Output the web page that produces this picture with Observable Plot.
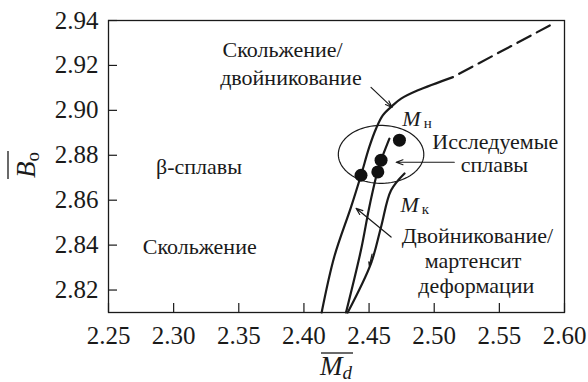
<!DOCTYPE html>
<html>
<head>
<meta charset="utf-8">
<script src="https://cdn.jsdelivr.net/npm/d3@7"></script>
<script src="https://cdn.jsdelivr.net/npm/@observablehq/plot@0.6"></script>
<style>
  body { margin: 0; background: #fff; }
  #chart svg, #chart svg text {
    font-family: "Liberation Serif", LiberationSerif, "Times New Roman", Times, Tinos,
      "DejaVu Serif", DejaVuSerif, "Noto Serif", FreeSerif, Georgia, serif !important;
  }
</style>
</head>
<body>
<div id="chart"></div>
<script>
// Axis ticks
const xTicks = [2.25, 2.30, 2.35, 2.40, 2.45, 2.50, 2.55, 2.60];
const yTicks = [2.82, 2.84, 2.86, 2.88, 2.90, 2.92, 2.94];

// Slip / twinning boundary (solid part, then the extrapolated dashed part)
const slipBoundary = [
  [2.4136, 2.8100], [2.4233, 2.8348], [2.4362, 2.8570], [2.4438, 2.8711],
  [2.4502, 2.8837], [2.4554, 2.8919], [2.4605, 2.8978], [2.4682, 2.9022],
  [2.4746, 2.9052], [2.4875, 2.9089], [2.5144, 2.9148]
];
const slipBoundaryDashed = [[2.5144, 2.9148], [2.5887, 2.9378]];

// Martensite start (Mн) and finish (Mк) lines
const msLine = [
  [2.4323, 2.8100], [2.4438, 2.8378], [2.4502, 2.8570], [2.4567, 2.8733],
  [2.4592, 2.8778], [2.4656, 2.8874]
];
const mfLine = [
  [2.4336, 2.8100], [2.4515, 2.8319], [2.4592, 2.8481], [2.4669, 2.8644],
  [2.4772, 2.8719]
];

// Studied alloys
const alloyMd = [2.4438, 2.4567, 2.4592, 2.4733];
const alloyBo = [2.8711, 2.8726, 2.8778, 2.8867];

// Ellipse enclosing the studied alloys: centre and semi-axes in data units
const ellipseCenter = [2.4592, 2.8804];
const ellipseRadii = [0.0328, 0.0129];

// Region and line labels
const labelText = ["Скольжение/", "двойникование", "β-сплавы", "Скольжение",
  "Исследуемые", "сплавы", "Двойникование/", "мартенсит", "деформации"];
const labelX = [2.3836, 2.3900, 2.3195, 2.3200, 2.5469, 2.5462, 2.5331, 2.5298, 2.5323];
const labelY = [2.9268, 2.9142, 2.8750, 2.8394, 2.8861, 2.8757, 2.8439, 2.8328, 2.8216];

// Mн / Mк symbols
const symText = ["M", "M"];
const symSub = ["н", "к"];
const symX = [2.4755, 2.4742];
const symY = [2.8960, 2.8579];
const subX = [2.4920, 2.4905];
const subY = [2.8941, 2.8560];

// Pointer arrows [x1, y1, x2, y2]
const pointers = [
  [2.4515, 2.9102, 2.4677, 2.9013],
  [2.5154, 2.8769, 2.4708, 2.8769],
  [2.4669, 2.8436, 2.4400, 2.8564],
  [2.4523, 2.8360, 2.4502, 2.8307]
];

const serif = "'Liberation Serif', 'Times New Roman', Times, 'DejaVu Serif', serif";

const ellipse = d3.range(0, 361, 4).map(a => {
  const t = a * Math.PI / 180;
  return [ellipseCenter[0] + ellipseRadii[0] * Math.cos(t),
          ellipseCenter[1] + ellipseRadii[1] * Math.sin(t)];
});

const labels = labelText.map((t, i) => ({t, x: labelX[i], y: labelY[i]}));
const syms = symText.map((t, i) => ({t, s: symSub[i], x: symX[i], y: symY[i], sx: subX[i], sy: subY[i]}));
const alloys = alloyMd.map((x, i) => ({x, y: alloyBo[i]}));

const W = 588, H = 382, mL = 108, mR = 24, mT = 20, mB = 70;
const frameW = W - mL - mR, frameH = H - mT - mB, tickLen = 9;

const chart = Plot.plot({
  width: W,
  height: H,
  marginLeft: mL,
  marginRight: mR,
  marginTop: mT,
  marginBottom: mB,
  style: {fontFamily: serif, fontSize: "25px", color: "#1a1a1a", background: "#fff"},
  x: {domain: [2.25, 2.60]},
  y: {domain: [2.81, 2.94]},
  marks: [
    Plot.frame({stroke: "#1a1a1a", strokeWidth: 1.3}),
    Plot.tickX(xTicks, {x: d => d, insetTop: frameH - tickLen, stroke: "#1a1a1a", strokeWidth: 1.2}),
    Plot.tickY(yTicks, {y: d => d, insetRight: frameW - tickLen, stroke: "#1a1a1a", strokeWidth: 1.2}),
    Plot.axisX(xTicks, {tickSize: 0, tickPadding: 14, tickFormat: d => d.toFixed(2), label: null, fontSize: 25}),
    Plot.axisY(yTicks, {tickSize: 0, tickPadding: 10, tickFormat: d => d.toFixed(2), label: null, fontSize: 25}),
    Plot.line(ellipse, {x: d => d[0], y: d => d[1], stroke: "#1a1a1a", strokeWidth: 1.2, curve: "linear"}),
    Plot.line(slipBoundary, {x: d => d[0], y: d => d[1], stroke: "#1a1a1a", strokeWidth: 2.2, curve: "catmull-rom"}),
    Plot.line(slipBoundaryDashed, {x: d => d[0], y: d => d[1], stroke: "#1a1a1a", strokeWidth: 2.2,
      strokeDasharray: "15,7", strokeDashoffset: 15}),
    Plot.line(msLine, {x: d => d[0], y: d => d[1], stroke: "#1a1a1a", strokeWidth: 2.2, curve: "catmull-rom"}),
    Plot.line(mfLine, {x: d => d[0], y: d => d[1], stroke: "#1a1a1a", strokeWidth: 2.2, curve: "catmull-rom"}),
    Plot.arrow(pointers, {x1: d => d[0], y1: d => d[1], x2: d => d[2], y2: d => d[3],
      stroke: "#1a1a1a", strokeWidth: 1.2, headLength: 9, headAngle: 40}),
    Plot.dot(alloys, {x: "x", y: "y", r: 6.5, fill: "#111", stroke: "none"}),
    Plot.text(labels, {x: "x", y: "y", text: "t", fontSize: 22, fill: "#1a1a1a", textAnchor: "middle"}),
    Plot.text(syms, {x: "x", y: "y", text: "t", fontSize: 22, fontStyle: "italic", fill: "#1a1a1a", textAnchor: "start"}),
    Plot.text(syms, {x: "sx", y: "sy", text: "s", fontSize: 15, fill: "#1a1a1a", textAnchor: "start"})
  ]
});

document.getElementById("chart").appendChild(chart);

// Axis titles: barred M_d and B_o
const svg = d3.select(chart);
const xt = svg.append("text")
  .attr("x", 336).attr("y", 375)
  .attr("text-anchor", "middle")
  .attr("fill", "#1a1a1a");
xt.append("tspan").attr("font-style", "italic").attr("font-size", 27).text("M");
xt.append("tspan").attr("font-style", "italic").attr("font-size", 19).attr("dy", 4).text("d");
svg.append("line").attr("x1", 321).attr("x2", 353).attr("y1", 353).attr("y2", 353)
  .attr("stroke", "#1a1a1a").attr("stroke-width", 1.3);

const yt = svg.append("text")
  .attr("transform", "translate(35,165) rotate(-90)")
  .attr("text-anchor", "middle")
  .attr("fill", "#1a1a1a");
yt.append("tspan").attr("font-style", "italic").attr("font-size", 27).text("B");
yt.append("tspan").attr("font-size", 19).attr("dy", 4).text("o");
svg.append("line").attr("x1", 8).attr("x2", 8).attr("y1", 151).attr("y2", 179)
  .attr("stroke", "#1a1a1a").attr("stroke-width", 1.3);
</script>
</body>
</html>
